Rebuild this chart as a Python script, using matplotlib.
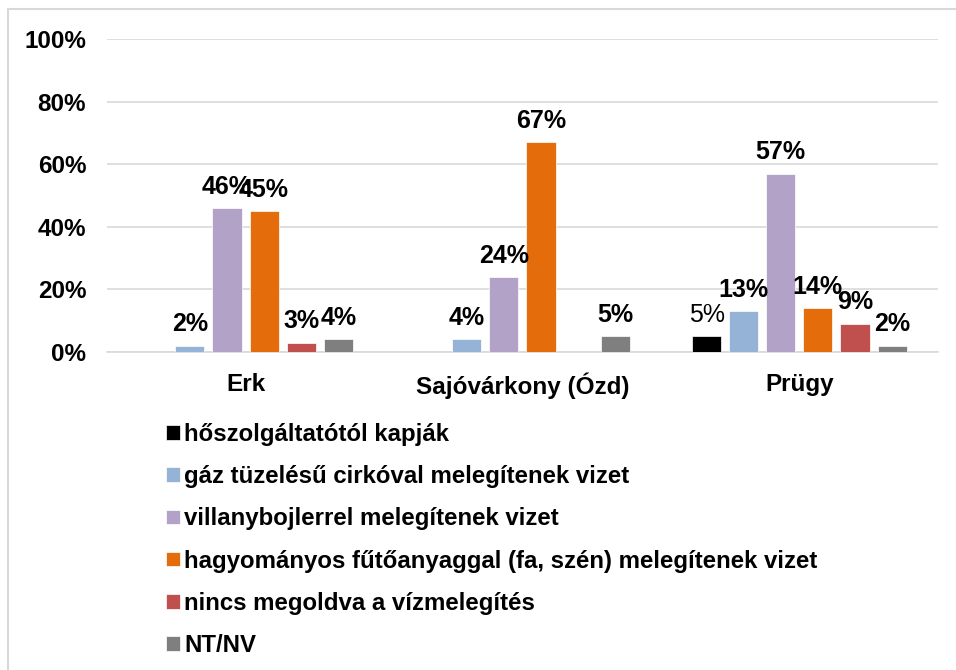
import numpy as np
import matplotlib.pyplot as plt
from matplotlib.patches import Rectangle

plt.rcParams['font.family'] = ['Liberation Sans', 'DejaVu Sans']

# data
places = ["Erk", "Sajóvárkony (Ózd)", "Prügy"]
series = [
    "hőszolgáltatótól kapják",
    "gáz tüzelésű cirkóval melegítenek vizet",
    "villanybojlerrel melegítenek vizet",
    "hagyományos fűtőanyaggal (fa, szén) melegítenek vizet",
    "nincs megoldva a vízmelegítés",
    "NT/NV",
]
hoszolg = [0, 0, 5]
gaz = [2, 4, 13]
villany = [46, 24, 57]
hagyomanyos = [45, 67, 14]
nincs = [3, 0, 9]
ntnv = [4, 5, 2]
values = [hoszolg, gaz, villany, hagyomanyos, nincs, ntnv]
colors = ["#000000", "#95b3d7", "#b3a2c7", "#e46c0a", "#c0504d", "#7f7f7f"]

fig = plt.figure(figsize=(9.56, 6.70), dpi=100)
ax = fig.add_axes([0.112, 0.4746, 0.869, 0.4672])

x = np.arange(len(places))
step = 0.134
width = 0.105
for i, (name, vals, c) in enumerate(zip(series, values, colors)):
    pos = x + (i - 2.5) * step
    bars = ax.bar(pos, vals, width, color=c, label=name, edgecolor="white", linewidth=0.5, zorder=3)
    for b, v in zip(bars, vals):
        if v == 0:
            continue
        ax.text(b.get_x() + b.get_width() / 2, v + 3, f"{v}%", ha="center", va="bottom",
                fontsize=18, fontweight="normal" if i == 0 else "bold", zorder=4)

ax.set_xlim(-0.5, 2.5)
ax.set_ylim(0, 100)
ax.set_yticks(range(0, 101, 20))
ax.set_yticklabels([f"{t}%" for t in range(0, 101, 20)], fontsize=17.5, fontweight="bold")
ax.set_xticks(x)
ax.set_xticklabels(places, fontsize=17.5, fontweight="bold")
ax.tick_params(length=0)
ax.tick_params(axis="y", pad=15)
ax.tick_params(axis="x", pad=15)
ax.yaxis.grid(True, color="#d9d9d9", linewidth=1.2, zorder=0)
for s in ["top", "right", "left"]:
    ax.spines[s].set_visible(False)
ax.spines["bottom"].set_color("#d9d9d9")
ax.spines["bottom"].set_linewidth(1.2)

fig.legend(loc="upper left", bbox_to_anchor=(0.164, 0.383), frameon=False,
           prop={"size": 17.3, "weight": "bold"}, handlelength=0.55, handleheight=0.55,
           handletextpad=0.2, labelspacing=0.8, borderaxespad=0)

fig.add_artist(Rectangle((8 / 956, -0.1), 1.2, 1 - 9 / 670 + 0.1, transform=fig.transFigure,
                         fill=False, edgecolor="#d9d9d9", linewidth=1.5))

fig.savefig("out.png", dpi=100)
